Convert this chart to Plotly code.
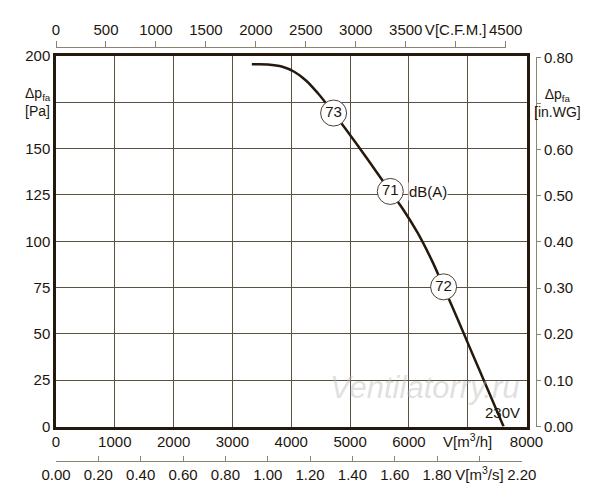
import plotly.graph_objects as go

# curva del ventilador (230V)
flow_m3h = [3330, 3600, 3850, 4050, 4250, 4450, 4720, 4950, 5200, 5450,
            5684, 5900, 6150, 6400, 6590, 6850, 7100, 7350, 7610]
pressure_pa = [195.5, 195.4, 194.2, 191.5, 186.8, 180.0, 169.2, 159.5, 148.6,
               137.4, 126.9, 117.3, 104.5, 89.0, 75.4, 56.4, 37.8, 19.3, 0]

# puntos de ruido dB(A)
noise_flow = [4720, 5684, 6590]
noise_pa = [169.2, 126.9, 75.4]
noise_db = ["73", "71", "72"]

# ejes
m3h_ticks = [0, 1000, 2000, 3000, 4000, 5000, 6000, 7000, 8000]
m3h_labels = ["0", "1000", "2000", "3000", "4000", "5000", "6000", "V[m<sup>3</sup>/h]", "8000"]
pa_ticks = [0, 25, 50, 75, 100, 125, 150, 175, 200]
pa_labels = ["0", "25", "50", "75", "100", "125", "150", "", "200"]
cfm_ticks = [0, 500, 1000, 1500, 2000, 2500, 3000, 3500, 4000, 4500]
cfm_labels = ["0", "500", "1000", "1500", "2000", "2500", "3000", "3500", "V[C.F.M.]", "4500"]
m3s_ticks = [0, 0.2, 0.4, 0.6, 0.8, 1.0, 1.2, 1.4, 1.6, 1.8, 2.0, 2.2]
m3s_labels = ["0.00", "0.20", "0.40", "0.60", "0.80", "1.00", "1.20", "1.40",
              "1.60", "1.80", "V[m<sup>3</sup>/s]", "2.20"]
inwg_ticks = [0, 0.1, 0.2, 0.3, 0.4, 0.5, 0.6, 0.7, 0.8]
inwg_labels = ["0.00", "0.10", "0.20", "0.30", "0.40", "0.50", "0.60", "", "0.80"]

M3H_PER_CFM = 1.699011
PA_PER_INWG = 249.089
X_MAX = 8000
Y_MAX = 200

# geometria en pixeles de la imagen; la pagina tiene 8px de margen
OFF = 8
W, H = 600, 500
L = 55.5 - OFF          # borde izquierdo del grafico
T = 47 - OFF            # linea del eje C.F.M.
R = W - (536 - OFF)     # linea del eje in.WG
B = H - (461.5 - OFF)   # linea del eje m3/s
pw, ph = W - L - R, H - T - B
x_end = (526.5 - OFF - L) / pw
y_bot = (H - B - (427 - OFF)) / ph
y_top = (H - B - (56 - OFF)) / ph

cfm_max = X_MAX / M3H_PER_CFM
m3s_max = X_MAX / 3600
inwg_max = Y_MAX / PA_PER_INWG

dark = "#24190c"
grid = "#5b5142"
light = "#8a8272"
txt = "#1c160e"

fig = go.Figure()

fig.add_trace(go.Scatter(
    x=flow_m3h, y=pressure_pa, mode="lines",
    line=dict(color=dark, width=2.5, shape="spline", smoothing=1),
    hoverinfo="skip", showlegend=False,
))

fig.add_trace(go.Scatter(
    x=noise_flow, y=noise_pa, mode="markers+text", text=noise_db,
    textposition="middle center", textfont=dict(size=15, color=txt),
    marker=dict(size=26, color="white", line=dict(color="#4a4032", width=1)),
    hoverinfo="skip", showlegend=False,
))

# trazas invisibles para los ejes secundarios
fig.add_trace(go.Scatter(
    x=[f / M3H_PER_CFM for f in flow_m3h],
    y=[p / PA_PER_INWG for p in pressure_pa],
    xaxis="x2", yaxis="y2", mode="lines", opacity=0,
    hoverinfo="skip", showlegend=False,
))
fig.add_trace(go.Scatter(
    x=[f / 3600 for f in flow_m3h],
    y=[p / PA_PER_INWG for p in pressure_pa],
    xaxis="x3", yaxis="y2", mode="lines", opacity=0,
    hoverinfo="skip", showlegend=False,
))

common = dict(automargin=False, zeroline=False, tickfont=dict(size=15, color=txt))

fig.update_layout(
    width=W, height=H,
    margin=dict(l=L, r=R, t=T, b=B, pad=0),
    paper_bgcolor="white", plot_bgcolor="rgba(0,0,0,0)",
    font=dict(family="Liberation Sans, Arial, sans-serif", size=14, color=txt),
    xaxis=dict(
        domain=[0, x_end], range=[0, X_MAX],
        tickvals=m3h_ticks, ticktext=m3h_labels, ticks="",
        showgrid=True, gridcolor=grid, gridwidth=1,
        showline=True, linecolor=dark, linewidth=2.5, mirror=True, **common,
    ),
    yaxis=dict(
        domain=[y_bot, y_top], range=[0, Y_MAX],
        tickvals=pa_ticks, ticktext=pa_labels, ticks="",
        showgrid=True, gridcolor=grid, gridwidth=1,
        showline=True, linecolor=dark, linewidth=2.5, mirror=True, **common,
    ),
    xaxis2=dict(
        anchor="free", position=1, side="top",
        domain=[0, x_end * 4500 / cfm_max], range=[0, 4500],
        tickvals=cfm_ticks, ticktext=cfm_labels,
        ticks="outside", ticklen=6, tickcolor=light,
        showline=True, linecolor=light, linewidth=1, showgrid=False, **common,
    ),
    xaxis3=dict(
        anchor="free", position=0, side="bottom",
        domain=[0, x_end * 2.2 / m3s_max], range=[0, 2.2],
        tickvals=m3s_ticks, ticktext=m3s_labels,
        ticks="inside", ticklen=5, tickcolor=light,
        showline=True, linecolor=light, linewidth=1, showgrid=False, **common,
    ),
    yaxis2=dict(
        anchor="free", position=1, side="right",
        domain=[y_bot, y_bot + (y_top - y_bot) * 0.8 / inwg_max], range=[0, 0.8],
        tickvals=inwg_ticks, ticktext=inwg_labels,
        ticks="outside", ticklen=4, tickcolor=light,
        showline=True, linecolor=light, linewidth=1, showgrid=False, **common,
    ),
)

fig.add_annotation(
    text="Δp<sub>fa</sub><br>[Pa]", xref="paper", x=(52 - OFF - L) / pw, xanchor="right",
    yref="y", y=175, yanchor="middle", align="left", showarrow=False,
    font=dict(size=14),
)
fig.add_annotation(
    text="Δp<sub>fa</sub><br>[in.WG]", xref="paper", x=(558 - OFF - L) / pw, xanchor="center",
    yref="y2", y=0.7, yanchor="middle", align="center", showarrow=False,
    font=dict(size=14),
)
fig.add_annotation(
    text="dB(A)", x=5980, y=126.9, xanchor="left", yanchor="middle",
    showarrow=False, bgcolor="white", borderpad=0, font=dict(size=15),
)
fig.add_annotation(
    text="230V", x=7590, y=7.7, xanchor="center", yanchor="middle",
    showarrow=False, font=dict(size=15),
)
fig.add_annotation(
    text="<i>Ventilatorry.ru</i>", x=6270, y=21, xanchor="center", yanchor="middle",
    showarrow=False, font=dict(size=31, color="rgba(185,185,185,0.45)"),
)

fig.write_html("out.html")
